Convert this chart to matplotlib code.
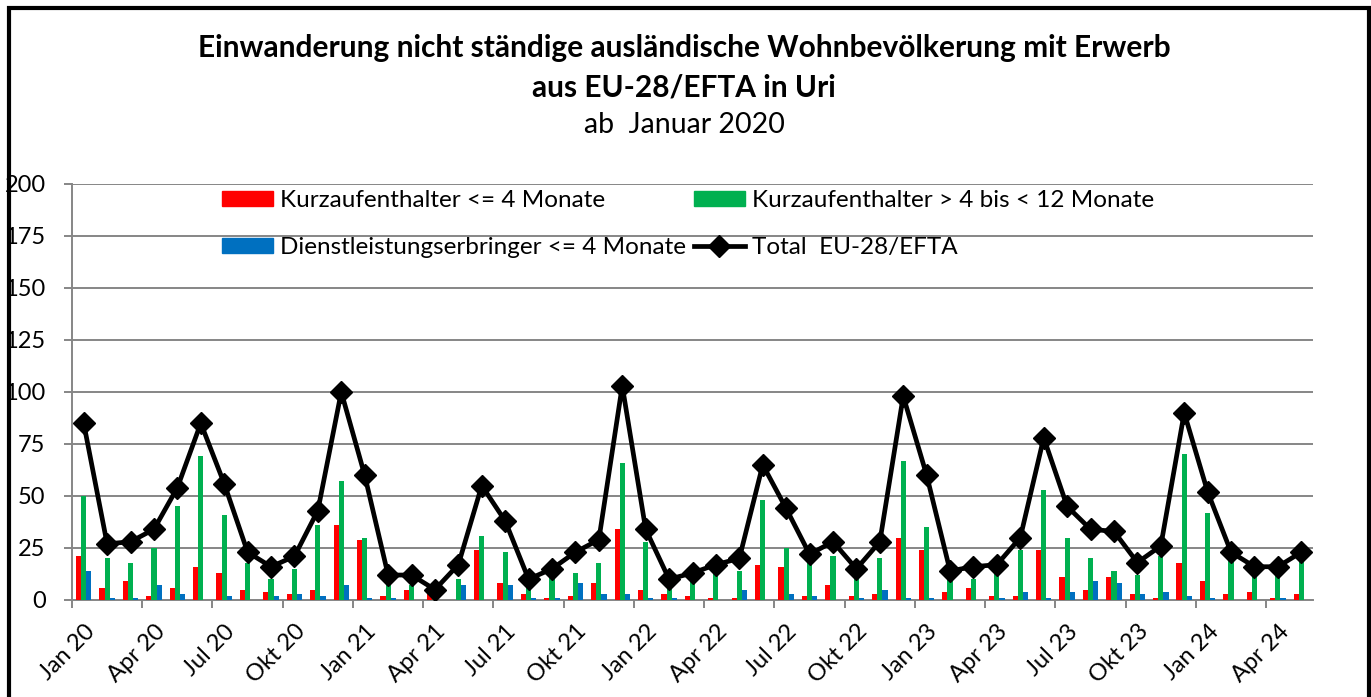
import matplotlib
matplotlib.use('Agg')
import matplotlib.pyplot as plt
from matplotlib.patches import Rectangle, Patch
from matplotlib.lines import Line2D
import numpy as np

plt.rcParams['font.family'] = ['Lato', 'DejaVu Sans']

# Monatsdaten Jan 2020 - Mai 2024
months = ['Jan 20', 'Feb 20', 'Mär 20', 'Apr 20', 'Mai 20', 'Jun 20', 'Jul 20', 'Aug 20', 'Sep 20', 'Okt 20', 'Nov 20', 'Dez 20',
          'Jan 21', 'Feb 21', 'Mär 21', 'Apr 21', 'Mai 21', 'Jun 21', 'Jul 21', 'Aug 21', 'Sep 21', 'Okt 21', 'Nov 21', 'Dez 21',
          'Jan 22', 'Feb 22', 'Mär 22', 'Apr 22', 'Mai 22', 'Jun 22', 'Jul 22', 'Aug 22', 'Sep 22', 'Okt 22', 'Nov 22', 'Dez 22',
          'Jan 23', 'Feb 23', 'Mär 23', 'Apr 23', 'Mai 23', 'Jun 23', 'Jul 23', 'Aug 23', 'Sep 23', 'Okt 23', 'Nov 23', 'Dez 23',
          'Jan 24', 'Feb 24', 'Mär 24', 'Apr 24', 'Mai 24']

kurz_4 = [21, 6, 9, 2, 6, 16, 13, 5, 4, 3, 5, 36,
          29, 2, 5, 3, 0, 24, 8, 3, 1, 2, 8, 34,
          5, 3, 2, 1, 1, 17, 16, 2, 7, 2, 3, 30,
          24, 4, 6, 2, 2, 24, 11, 5, 11, 3, 1, 18,
          9, 3, 4, 1, 3]
kurz_12 = [50, 20, 18, 25, 45, 69, 41, 18, 10, 15, 36, 57,
           30, 9, 7, 2, 10, 31, 23, 6, 13, 13, 18, 66,
           28, 6, 11, 16, 14, 48, 25, 18, 21, 12, 20, 67,
           35, 10, 10, 14, 24, 53, 30, 20, 14, 12, 21, 70,
           42, 20, 12, 14, 20]
dienst = [14, 1, 1, 7, 3, 0, 2, 0, 2, 3, 2, 7,
          1, 1, 0, 0, 7, 0, 7, 1, 1, 8, 3, 3,
          1, 1, 0, 0, 5, 0, 3, 2, 0, 1, 5, 1,
          1, 0, 0, 1, 4, 1, 4, 9, 8, 3, 4, 2,
          1, 0, 0, 1, 0]
total = [85, 27, 28, 34, 54, 85, 56, 23, 16, 21, 43, 100,
         60, 12, 12, 5, 17, 55, 38, 10, 15, 23, 29, 103,
         34, 10, 13, 17, 20, 65, 44, 22, 28, 15, 28, 98,
         60, 14, 16, 17, 30, 78, 45, 34, 33, 18, 26, 90,
         52, 23, 16, 16, 23]

labels = ['Kurzaufenthalter <= 4 Monate', 'Kurzaufenthalter > 4 bis < 12 Monate',
          'Dienstleistungserbringer <= 4 Monate', 'Total  EU-28/EFTA']

W, H = 1371, 697
fig = plt.figure(figsize=(W / 100, H / 100), dpi=100)
ax = fig.add_axes([72 / W, 1 - 600 / H, (1313 - 72) / W, (600 - 184) / H])

x = np.arange(len(months))
bw = 0.22
ax.bar(x - bw, kurz_4, bw, color='#FF0000', zorder=3)
ax.bar(x, kurz_12, bw, color='#00B050', zorder=3)
ax.bar(x + bw, dienst, bw, color='#0070C0', zorder=3)
ax.plot(x, total, '-', color='black', lw=3.4, marker='D', markersize=11, zorder=4)

ax.set_xlim(-0.5, len(months) - 0.5)
ax.set_ylim(0, 200)
ax.set_yticks(np.arange(0, 201, 25))
ax.yaxis.grid(True, color='#868686', lw=1.4, zorder=0)
for s in ['top', 'right']:
    ax.spines[s].set_visible(False)
for s in ['left', 'bottom']:
    ax.spines[s].set_color('#868686')
    ax.spines[s].set_linewidth(1.4)
ax.tick_params(axis='y', length=6, width=1.4, color='#868686', pad=13, labelsize=17)

# Beschriftung nur jedes 3. Monat
ax.set_xticks(x[::3])
ax.set_xticklabels(months[::3], rotation=45, ha='right', rotation_mode='anchor', fontsize=17)
ax.tick_params(axis='x', length=0, pad=15)
ax.set_xticks(np.arange(-0.5, len(months), 3), minor=True)
ax.tick_params(axis='x', which='minor', length=6, width=1.4, color='#868686')

handles = [Patch(color='#FF0000'), Patch(color='#0070C0'), Patch(color='#00B050'),
           Line2D([], [], color='black', lw=3.4, marker='D', markersize=11)]
ax.legend(handles, [labels[0], labels[2], labels[1], labels[3]], ncol=2, frameon=False,
          loc='upper left', bbox_to_anchor=((222 - 72) / (1313 - 72), 0.985),
          fontsize=17.5, handlelength=2.1, handleheight=0.6, handletextpad=0.3,
          labelspacing=1.07, columnspacing=0.3, borderaxespad=0, borderpad=0)

fig.text(684 / W, 1 - 48 / H, 'Einwanderung nicht ständige ausländische Wohnbevölkerung mit Erwerb',
         ha='center', va='center', fontsize=21.5, fontweight='bold')
fig.text(684 / W, 1 - 88 / H, 'aus EU-28/EFTA in Uri', ha='center', va='center', fontsize=21.5, fontweight='bold')
fig.text(684 / W, 1 - 125 / H, 'ab  Januar 2020', ha='center', va='center', fontsize=20.5)

# Rahmen
fig.patches.append(Rectangle((9 / W, -0.02), (1369 - 9) / W, 1.02 - 7.5 / H, transform=fig.transFigure,
                             fill=False, edgecolor='black', lw=3, zorder=10))

fig.savefig('out.png', dpi=100)
